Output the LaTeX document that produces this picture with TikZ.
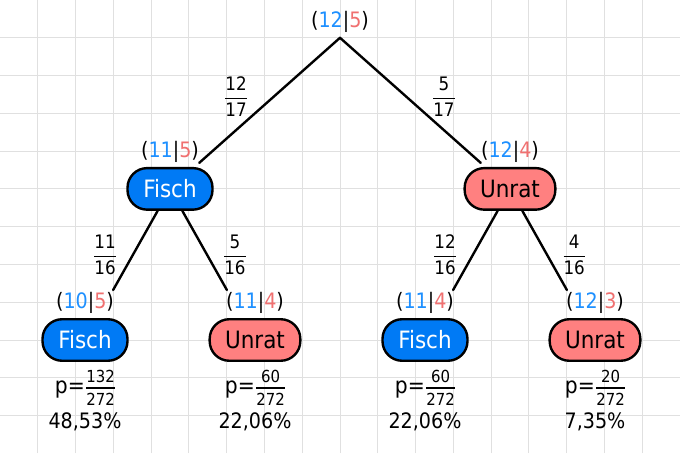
\documentclass[tikz,border=0pt]{standalone}
\usepackage{fontspec}
\setmainfont{DejaVu Sans Condensed}
\definecolor{fblue}{RGB}{0,122,245}
\definecolor{ured}{RGB}{255,128,128}
\definecolor{tblue}{RGB}{30,144,255}
\definecolor{tred}{RGB}{240,112,112}
\definecolor{gridc}{RGB}{224,224,224}
\newcommand{\cnt}[2]{(\textcolor{tblue}{#1}|\textcolor{tred}{#2})}
\newcommand{\fr}[2]{$\displaystyle{\mbox{#1}\above 0.8pt\mbox{#2}}$}
\newcommand{\pfr}[2]{$\textstyle{\mbox{\fontsize{12.5}{14}\selectfont #1\rule[-2.6pt]{0pt}{1pt}}\above 0.8pt\mbox{\fontsize{12.5}{14}\selectfont\rule{0pt}{11.8pt}#2}}$}
\begin{document}
\begin{tikzpicture}[
  fisch/.style={draw=black, line width=1.8pt, fill=fblue, text=white, rounded corners=0.52cm,
    minimum width=2.25cm, minimum height=1.1cm, inner sep=0pt, font=\fontsize{18}{20}\selectfont},
  unrat/.style={fisch, fill=ured, text=black, minimum width=2.4cm},
  cntlbl/.style={inner sep=0pt, font=\fontsize{16}{18}\selectfont},
  edgefr/.style={inner sep=0pt, font=\fontsize{14}{16}\selectfont},
  pline/.style={inner sep=0pt, font=\fontsize{17}{19}\selectfont},
  pct/.style={inner sep=0pt, font=\fontsize{16}{18}\selectfont},
  conn/.style={line width=1.8pt, line cap=round}
]
\useasboundingbox (0,0) rectangle (18,12);
\fill[white] (0,0) rectangle (18,12);
\foreach \x in {1,...,17} \draw[gridc, line width=0.7pt] (\x,0) -- (\x,12);
\foreach \y in {1,...,11} \draw[gridc, line width=0.7pt] (0,\y) -- (18,\y);

\coordinate (root) at (9,11);
\node[cntlbl, anchor=south] (rl) at ([yshift=0.13cm]root) {\cnt{12}{5}};

\node[fisch] (f1) at (4.5,7) {Fisch};
\node[unrat] (u1) at (13.5,7) {Unrat};
\node[cntlbl, anchor=south] (f1l) at ([yshift=0.1cm]f1.north) {\cnt{11}{5}};
\node[cntlbl, anchor=south] (u1l) at ([yshift=0.1cm]u1.north) {\cnt{12}{4}};

\node[fisch] (f2) at (2.25,3) {Fisch};
\node[unrat] (u2) at (6.75,3) {Unrat};
\node[fisch] (f3) at (11.25,3) {Fisch};
\node[unrat] (u3) at (15.75,3) {Unrat};
\node[cntlbl, anchor=south] (f2l) at ([yshift=0.12cm]f2.north) {\cnt{10}{5}};
\node[cntlbl, anchor=south] (u2l) at ([yshift=0.12cm]u2.north) {\cnt{11}{4}};
\node[cntlbl, anchor=south] (f3l) at ([yshift=0.12cm]f3.north) {\cnt{11}{4}};
\node[cntlbl, anchor=south] (u3l) at ([yshift=0.12cm]u3.north) {\cnt{12}{3}};

\draw[conn, shorten >=0.16cm] (root) -- (f1);
\draw[conn, shorten >=0.16cm] (root) -- (u1);
\draw[conn, shorten >=0.85cm] (f1) -- (f2);
\draw[conn, shorten >=0.85cm] (f1) -- (u2);
\draw[conn, shorten >=0.85cm] (u1) -- (f3);
\draw[conn, shorten >=0.85cm] (u1) -- (u3);

\node[edgefr] (e1) at (6.25,9.45) {\fr{12}{17}};
\node[edgefr] (e2) at (11.75,9.45) {\fr{5}{17}};
\node[edgefr] (e3) at (2.78,5.25) {\fr{11}{16}};
\node[edgefr] (e4) at (6.22,5.25) {\fr{5}{16}};
\node[edgefr] (e5) at (11.78,5.25) {\fr{12}{16}};
\node[edgefr] (e6) at (15.2,5.25) {\fr{4}{16}};

\node[pline] (p1) at (2.27,1.73) {p=\pfr{132}{272}};
\node[pline] (p2) at (6.77,1.73) {p=\pfr{60}{272}};
\node[pline] (p3) at (11.27,1.73) {p=\pfr{60}{272}};
\node[pline] (p4) at (15.77,1.73) {p=\pfr{20}{272}};
\node[pct] (q1) at (2.25,0.83) {48,53\%};
\node[pct] (q2) at (6.75,0.83) {22,06\%};
\node[pct] (q3) at (11.25,0.83) {22,06\%};
\node[pct] (q4) at (15.75,0.83) {7,35\%};
\end{tikzpicture}
\end{document}
